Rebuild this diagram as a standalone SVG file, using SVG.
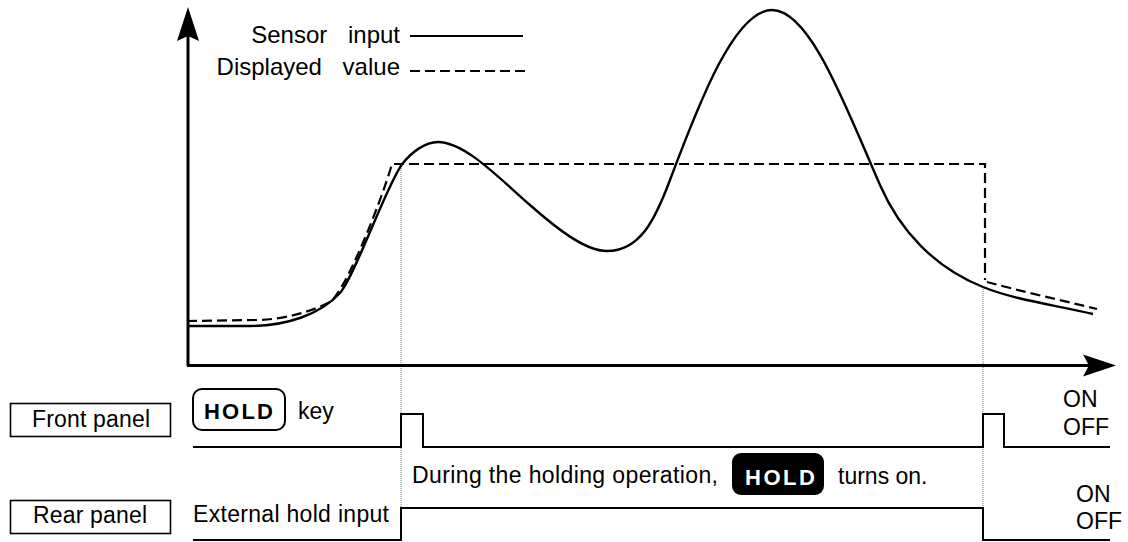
<svg xmlns="http://www.w3.org/2000/svg" width="1128" height="542" viewBox="0 0 1128 542">
<style>
  .t { font-family: "Liberation Sans", Arial, sans-serif; font-size: 23px; fill: #000; }
  .lg { font-family: "Liberation Sans", Arial, sans-serif; font-size: 24px; fill: #000; word-spacing: 14px; }
  .hold { font-family: "Liberation Sans", Arial, sans-serif; font-weight: bold; font-size: 22px; }
  .ax { stroke: #000; stroke-width: 3; fill: none; }
  .solid { stroke: #000; stroke-width: 2.4; fill: none; stroke-linejoin: round; }
  .dash { stroke: #000; stroke-width: 2.2; fill: none; stroke-dasharray: 10 5; }
  .dot { stroke: #777; stroke-width: 1; fill: none; stroke-dasharray: 1 1; }
  .sig { stroke: #000; stroke-width: 2; fill: none; }
  .box { stroke: #000; stroke-width: 1.6; fill: #fff; }
</style>

<g id="guides">
  <line class="dot" x1="401" y1="164" x2="401" y2="508"/>
  <line class="dot" x1="983" y1="287" x2="983" y2="508"/>
</g>

<g id="axes">
  <line class="ax" x1="188" y1="30" x2="188" y2="366"/>
  <polygon points="188,7 199,41 188,36 177,41" fill="#000"/>
  <line class="ax" x1="187" y1="365.5" x2="1095" y2="365.5"/>
  <polygon points="1116,365.5 1083,354.5 1089,365.5 1083,376.5" fill="#000"/>
</g>

<g id="curves">
  <path id="sensor-curve" class="solid" d="M187,326 L250,326 C285,326 320,315 340,293 C355,276 388,181 403,163 C412,152 425,142 438,142 C465,142 500,179 530,205 C556,228 585,251 607,251 C640,251 655,220 670,180 C700,100 735,10 772,10 C810,10 845,105 880,185 C900,231 935,268 983,287 C1015,300 1055,305 1093,314"/>
  <path id="display-curve" class="dash" d="M187,321 L255,320 C285,320 315,310 330,302 C345,292 380,205 392,164 L985,164 L985,280 M987,282 C1020,291 1060,300 1097,309"/>
</g>

<g id="legend">
  <text class="lg" x="400" y="43" text-anchor="end">Sensor input</text>
  <line class="sig" x1="410" y1="36" x2="523" y2="36"/>
  <text class="lg" x="400" y="75" text-anchor="end">Displayed value</text>
  <line class="dash" x1="410" y1="71" x2="527" y2="71"/>
</g>

<g id="front-panel">
  <rect class="box" x="10.5" y="403.5" width="160" height="33"/>
  <text class="t" x="91" y="427" text-anchor="middle" textLength="118" lengthAdjust="spacing">Front panel</text>
  <rect x="193" y="389" width="92" height="41" rx="9" fill="none" stroke="#000" stroke-width="2"/>
  <text class="hold" x="204" y="419" textLength="69" lengthAdjust="spacing">HOLD</text>
  <text class="t" x="298" y="419">key</text>
  <polyline class="sig" points="193,447 401,447 401,414 423,414 423,447 983,447 983,414 1004,414 1004,447 1110,447"/>
  <text class="t" x="1063" y="407">ON</text>
  <text class="t" x="1063" y="435">OFF</text>
</g>

<g id="rear-panel">
  <rect class="box" x="10.5" y="500.5" width="160" height="33"/>
  <text class="t" x="90" y="523" text-anchor="middle" textLength="114" lengthAdjust="spacing">Rear panel</text>
  <text class="t" x="193" y="522" textLength="196" lengthAdjust="spacing">External hold input</text>
  <polyline class="sig" points="193,540 401,540 401,508 983,508 983,540 1110,540"/>
  <text class="t" x="1076" y="502">ON</text>
  <text class="t" x="1076" y="529">OFF</text>
</g>

<g id="hold-note">
  <text class="t" x="412" y="483" textLength="306" lengthAdjust="spacing">During the holding operation,</text>
  <rect x="732" y="453" width="92" height="42" rx="9" fill="#000"/>
  <text class="hold" x="745" y="485" fill="#fff" font-size="24" textLength="70" lengthAdjust="spacing">HOLD</text>
  <text class="t" x="838" y="484">turns on.</text>
</g>
</svg>
